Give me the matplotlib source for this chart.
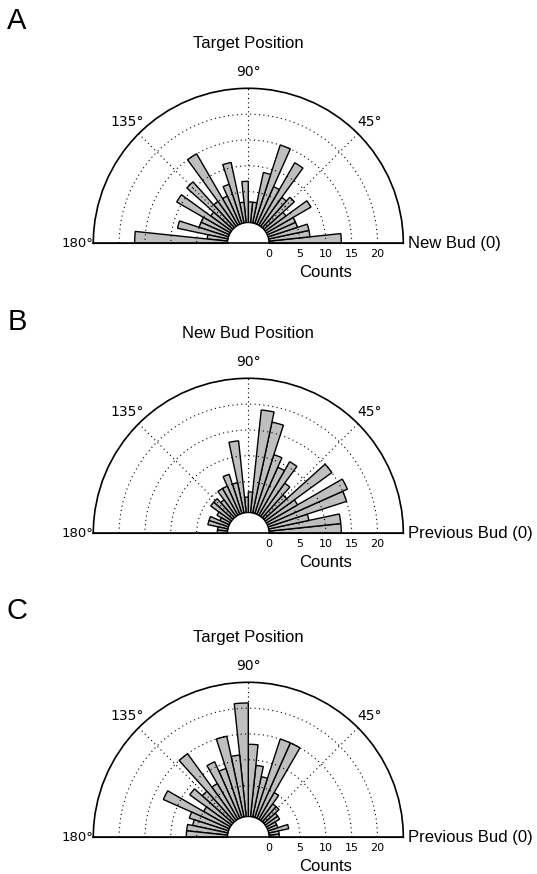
import matplotlib
matplotlib.use("Agg")
import matplotlib.pyplot as plt
import numpy as np

# 30 bins of 6 degrees over the upper half circle
bin_centers_deg = np.arange(3, 180, 6)
bin_width_deg = 6

counts_a = [13, 7, 7, 5, 5, 9, 4, 7, 6, 13, 7, 15, 9, 3, 3,
            7, 3, 11, 7, 5, 15, 5, 11, 4, 11, 5, 5, 9, 3, 17]
counts_b = [13, 13, 7, 15, 16, 6, 15, 5, 7, 11, 9, 11, 17, 19, 3,
            2, 13, 5, 7, 5, 5, 3, 4, 4, 2, 1, 3, 3, 1, 1]
counts_c = [1, 1, 3, 1, 1, 2, 2, 3, 3, 5, 15, 15, 7, 9, 13,
            21, 11, 15, 9, 11, 7, 15, 7, 9, 5, 13, 7, 6, 7, 7]

panel_letters = ["A", "B", "C"]
titles = ["Target Position", "New Bud Position", "Target Position"]
zero_labels = ["New Bud (0)", "Previous Bud (0)", "Previous Bud (0)"]
r_ticks = [5, 10, 15, 20]
r_tick_labels = ["0", "5", "10", "15", "20"]
angle_labels = {45: "45°", 90: "90°", 135: "135°"}

W, H = 537, 874
fig = plt.figure(figsize=(W / 100, H / 100), dpi=100)

sans = "Liberation Sans"
cx = 248.3
R = 155.0
baselines = [243.3, 533.3, 837.3]
letter_y = [21, 322, 611]


def draw_panel(counts, base_y, title, zero_label, letter, ly):
    # the half wedge sits in the middle of a square axes box
    ax = fig.add_axes([(cx - R) / W, (H - (base_y + R / 2)) / H,
                       2 * R / W, 2 * R / H], projection="polar")
    ax.set_thetamin(0)
    ax.set_thetamax(180)
    ax.set_rorigin(-5)
    ax.set_ylim(-1, 25)

    theta = np.deg2rad(bin_centers_deg)
    heights = np.array(counts) + 1
    ax.bar(theta, heights, width=np.deg2rad(bin_width_deg), bottom=-1,
           color="#bfbfbf", edgecolor="black", linewidth=1.0, zorder=1)

    ax.set_xticks(np.deg2rad([45, 90, 135]))
    ax.set_xticklabels([])
    ax.set_yticks(r_ticks)
    ax.set_yticklabels([])
    ax.tick_params(length=0)
    ax.set_axisbelow(False)
    ax.grid(True, color="black", linestyle=(0, (1, 3)), linewidth=0.8)

    ax.spines["polar"].set_linewidth(1.2)
    for s in ["inner", "start", "end"]:
        ax.spines[s].set_visible(False)
    ax.plot([0, 1], [0.25, 0.25], transform=ax.transAxes, color="black",
            linewidth=1.2, clip_on=False, zorder=5)

    for ang, lbl in angle_labels.items():
        ax.text(np.deg2rad(ang), 28.1, lbl, ha="center", va="center",
                fontsize=10, family="DejaVu Sans")
    ax.text(np.pi, 25, "180°", ha="right", va="center",
            fontsize=9.5, family="DejaVu Sans")
    ax.annotate(zero_label, xy=(0, 25), xytext=(5, 0),
                textcoords="offset pixels", ha="left", va="center",
                fontsize=12, family=sans)

    for pos, lbl in zip([-1] + r_ticks, r_tick_labels):
        ax.annotate(lbl, xy=(0, pos), xytext=(0, -11),
                    textcoords="offset pixels", ha="center", va="center",
                    fontsize=8, family="DejaVu Sans")
    ax.annotate("Counts", xy=(0, 10), xytext=(0, -29),
                textcoords="offset pixels", ha="center", va="center",
                fontsize=12, family=sans)

    fig.text(cx / W, (H - (base_y - 200)) / H, title, ha="center",
             va="center", fontsize=12, family=sans)
    fig.text(17 / W, (H - ly) / H, letter, ha="center", va="center",
             fontsize=21, family=sans)


for counts, by, t, z, l, ly in zip([counts_a, counts_b, counts_c], baselines,
                                   titles, zero_labels, panel_letters, letter_y):
    draw_panel(counts, by, t, z, l, ly)

fig.savefig("out.png", dpi=100)
